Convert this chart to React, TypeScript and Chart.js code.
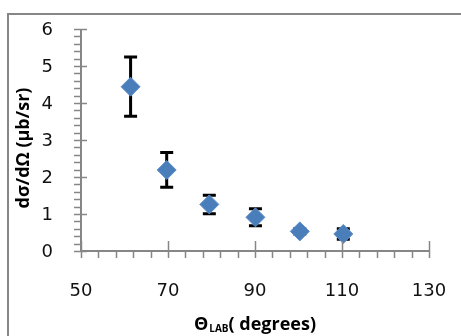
import React, { useEffect, useRef } from "react";
import { Chart, registerables } from "chart.js";

Chart.register(...registerables);

const angles = [61.4, 69.7, 79.5, 90.1, 100.3, 110.3];
const crossSections = [4.44, 2.19, 1.26, 0.91, 0.53, 0.46];
const errors = [0.8, 0.47, 0.25, 0.23, 0.07, 0.14];

const xMin = 50, xMax = 130, xStep = 20, xMinor = 4;
const yMin = 0, yMax = 6, yStep = 1, yMinor = 0.2;

const yTitle = "dσ/dΩ (μb/sr)";
const xTitleMain = "Θ";
const xTitleSub = "LAB";
const xTitleRest = "( degrees)";

const AXIS = "#868686";
const TICK_FONT_CSS = "18px 'DejaVu Sans', sans-serif";
const TITLE_FAMILY = "'Open Sans', sans-serif";

const decorPlugin = {
  id: "decor",
  beforeDatasetsDraw(chart: any) {
    const ctx = chart.ctx;
    const xs = chart.scales.x;
    const ys = chart.scales.y;
    ctx.save();
    ctx.strokeStyle = "#000";
    ctx.lineWidth = 3;
    for (let i = 0; i < angles.length; i++) {
      const px = xs.getPixelForValue(angles[i]);
      const top = ys.getPixelForValue(crossSections[i] + errors[i]);
      const bot = ys.getPixelForValue(crossSections[i] - errors[i]);
      ctx.beginPath();
      ctx.moveTo(px, top);
      ctx.lineTo(px, bot);
      ctx.moveTo(px - 6.5, top);
      ctx.lineTo(px + 6.5, top);
      ctx.moveTo(px - 6.5, bot);
      ctx.lineTo(px + 6.5, bot);
      ctx.stroke();
    }
    ctx.restore();
  },
  afterDraw(chart: any) {
    const ctx = chart.ctx;
    const xs = chart.scales.x;
    const ys = chart.scales.y;
    const x0 = xs.getPixelForValue(xMin);
    const x1 = xs.getPixelForValue(xMax);
    const y0 = ys.getPixelForValue(yMin);
    const y1 = ys.getPixelForValue(yMax);
    ctx.save();
    ctx.strokeStyle = AXIS;
    ctx.lineWidth = 2;
    ctx.beginPath();
    ctx.moveTo(8, 340);
    ctx.lineTo(8, 14);
    ctx.lineTo(465, 14);
    ctx.stroke();
    ctx.beginPath();
    ctx.moveTo(x0, y1);
    ctx.lineTo(x0, y0 + 1);
    ctx.moveTo(x0 - 1, y0);
    ctx.lineTo(x1 + 1, y0);
    ctx.stroke();
    ctx.lineWidth = 1.5;
    ctx.beginPath();
    const nY = Math.round((yMax - yMin) / yMinor);
    for (let k = 0; k <= nY; k++) {
      const v = yMin + k * yMinor;
      const py = Math.round(ys.getPixelForValue(v)) + 0.5;
      const major = k % Math.round(yStep / yMinor) === 0;
      ctx.moveTo(x0 - 7, py);
      ctx.lineTo(major ? x0 + 6 : x0, py);
    }
    const nX = Math.round((xMax - xMin) / xMinor);
    for (let k = 0; k <= nX; k++) {
      const v = xMin + k * xMinor;
      const px = Math.round(xs.getPixelForValue(v)) + 0.5;
      const major = k % Math.round(xStep / xMinor) === 0;
      ctx.moveTo(px, major ? y0 - 10 : y0);
      ctx.lineTo(px, y0 + 7);
    }
    ctx.stroke();

    // tick labels from the scales' own ticks
    ctx.fillStyle = "#111";
    ctx.font = TICK_FONT_CSS;
    ctx.textBaseline = "middle";
    ctx.textAlign = "right";
    ys.ticks.forEach((t: any) => {
      ctx.fillText(String(t.value), 53, ys.getPixelForValue(t.value) + 1);
    });
    ctx.textAlign = "center";
    xs.ticks.forEach((t: any) => {
      ctx.fillText(String(t.value), xs.getPixelForValue(t.value), 291);
    });

    ctx.fillStyle = "#000";
    ctx.font = `bold 18px ${TITLE_FAMILY}`;
    ctx.textAlign = "center";
    ctx.textBaseline = "middle";
    ctx.save();
    ctx.translate(24, 148);
    ctx.rotate(-Math.PI / 2);
    ctx.fillText(yTitle, 0, 0);
    ctx.restore();
    const mainFont = `bold 18px ${TITLE_FAMILY}`;
    const subFont = `bold 10px ${TITLE_FAMILY}`;
    ctx.font = mainFont;
    const wMain = ctx.measureText(xTitleMain).width;
    const wRest = ctx.measureText(xTitleRest).width;
    ctx.font = subFont;
    const wSub = ctx.measureText(xTitleSub).width;
    const total = wMain + wSub + wRest + 1;
    let cx = (x0 + x1) / 2 - total / 2;
    const cy = 325;
    ctx.textAlign = "left";
    ctx.font = mainFont;
    ctx.fillText(xTitleMain, cx, cy);
    cx += wMain + 1;
    ctx.font = subFont;
    ctx.fillText(xTitleSub, cx, cy + 4);
    cx += wSub;
    ctx.font = mainFont;
    ctx.fillText(xTitleRest, cx, cy);
    ctx.restore();
  },
};

export default function App() {
  const ref = useRef<HTMLCanvasElement | null>(null);
  useEffect(() => {
    if (!ref.current) return;
    const chart = new Chart(ref.current, {
      type: "scatter",
      data: {
        datasets: [
          {
            data: angles.map((a, i) => ({ x: a, y: crossSections[i] })),
            pointStyle: "rectRot",
            pointRadius: 9.5,
            backgroundColor: "#4a7ebb",
            borderColor: "#5b8cc6",
            borderWidth: 1,
          },
        ],
      },
      options: {
        animation: false,
        responsive: false,
        devicePixelRatio: 1,
        layout: { padding: { left: 0, right: 32, top: 29, bottom: 0 } },
        plugins: { legend: { display: false }, tooltip: { enabled: false } },
        scales: {
          x: {
            type: "linear",
            min: xMin,
            max: xMax,
            ticks: { stepSize: xStep, display: false },
            grid: { display: false, drawTicks: false },
            border: { display: false },
            afterFit: (s: any) => {
              s.height = 85;
            },
          },
          y: {
            min: yMin,
            max: yMax,
            ticks: { stepSize: yStep, display: false },
            grid: { display: false, drawTicks: false },
            border: { display: false },
            afterFit: (s: any) => {
              s.width = 81;
            },
          },
        },
      },
      plugins: [decorPlugin],
    });
    return () => chart.destroy();
  }, []);
  return (
    <div style={{ position: "fixed", left: 0, top: 0, width: 461, height: 336, background: "#fff" }}>
      <canvas ref={ref} width={461} height={336} style={{ display: "block" }} />
    </div>
  );
}
